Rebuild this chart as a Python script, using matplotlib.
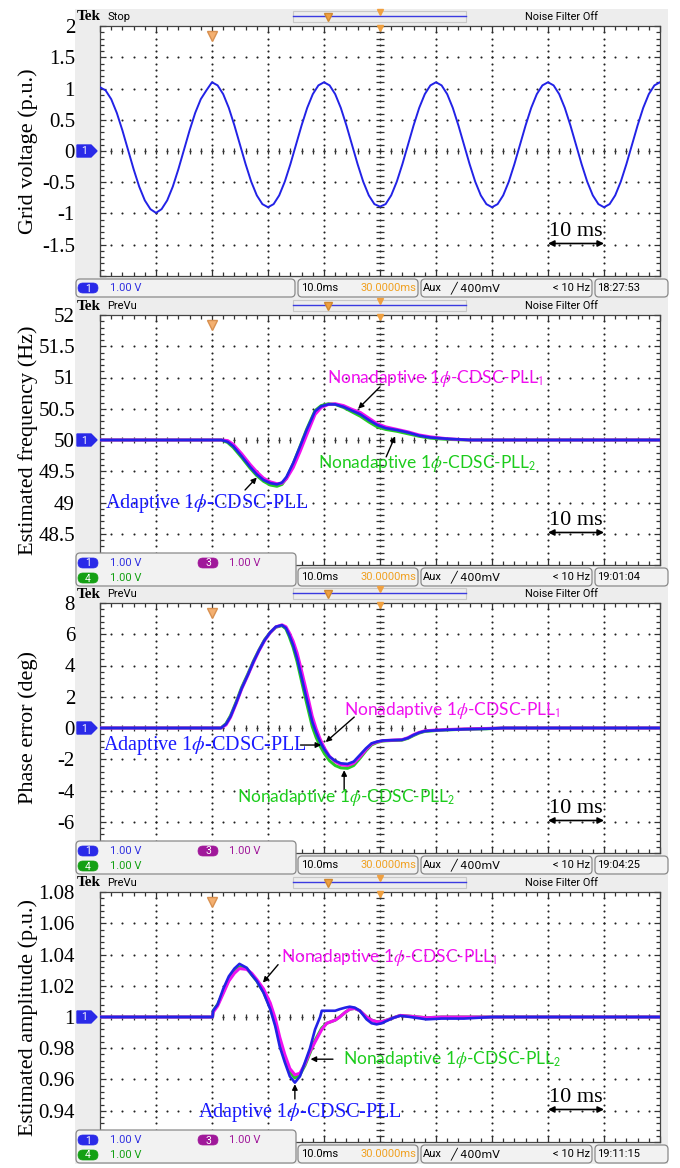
import numpy as np
import matplotlib
matplotlib.use('Agg')
import matplotlib.pyplot as plt
from matplotlib.patches import FancyBboxPatch, Rectangle, Polygon
from matplotlib.transforms import blended_transform_factory

plt.rcParams['mathtext.fontset'] = 'stix'

# ---- grid voltage (1 ms samples) ----
grid_t = np.arange(0, 101)
grid_v = [1.02, 0.97, 0.83, 0.61, 0.33, 0.02, -0.29, -0.57, -0.79, -0.93,
          -0.99, -0.93, -0.79, -0.57, -0.29, 0.02, 0.33, 0.61, 0.83, 0.97,
          1.10, 1.05, 0.91, 0.69, 0.41, 0.10, -0.21, -0.49, -0.71, -0.85,
          -0.90, -0.85, -0.71, -0.49, -0.21, 0.10, 0.41, 0.69, 0.91, 1.05,
          1.10, 1.05, 0.91, 0.69, 0.41, 0.10, -0.21, -0.49, -0.71, -0.85,
          -0.89, -0.85, -0.71, -0.49, -0.21, 0.10, 0.41, 0.69, 0.91, 1.05,
          1.10, 1.05, 0.91, 0.69, 0.41, 0.10, -0.21, -0.49, -0.71, -0.85,
          -0.90, -0.85, -0.71, -0.49, -0.21, 0.10, 0.41, 0.69, 0.91, 1.05,
          1.10, 1.05, 0.91, 0.69, 0.41, 0.10, -0.21, -0.49, -0.71, -0.85,
          -0.90, -0.85, -0.71, -0.49, -0.21, 0.10, 0.41, 0.69, 0.91, 1.05,
          1.10]

# ---- estimated frequency (Hz) ----
freq_t = [0, 21.7, 22.8, 23.8, 25.3, 26.8, 28.0, 29.2, 30.4, 31.6, 32.5, 33.3,
          34.5, 35.7, 36.9, 38.4, 39.5, 40.8, 42.0, 43.5, 45.0, 46.5, 48.0,
          49.5, 51.0, 53.0, 55.0, 57.0, 59.0, 62.0, 66.0, 100]
freq_adaptive = [50.0, 50.0, 49.97, 49.9, 49.74, 49.57, 49.45, 49.36, 49.31,
                 49.29, 49.32, 49.41, 49.63, 49.89, 50.16, 50.46, 50.54, 50.57,
                 50.57, 50.53, 50.47, 50.41, 50.32, 50.24, 50.19, 50.16, 50.12,
                 50.07, 50.04, 50.02, 50.0, 50.0]
freq_nonadaptive1 = [50.0, 50.0, 49.99, 49.93, 49.78, 49.61, 49.49, 49.39,
                     49.33, 49.3, 49.31, 49.38, 49.56, 49.81, 50.08, 50.41,
                     50.52, 50.57, 50.58, 50.55, 50.49, 50.44, 50.35, 50.26,
                     50.21, 50.17, 50.13, 50.08, 50.05, 50.02, 50.0, 50.0]
freq_nonadaptive2 = [50.0, 50.0, 49.96, 49.88, 49.72, 49.55, 49.43, 49.34,
                     49.28, 49.26, 49.29, 49.39, 49.62, 49.89, 50.17, 50.47,
                     50.55, 50.58, 50.57, 50.52, 50.45, 50.38, 50.29, 50.21,
                     50.17, 50.14, 50.1, 50.06, 50.03, 50.01, 50.0, 50.0]

# ---- phase error (deg) ----
phase_t = [0, 21.6, 22.5, 23.3, 24.3, 25.3, 26.4, 27.4, 28.4, 29.4, 30.4, 31.4,
           32.5, 33.2, 33.8, 34.5, 35.2, 35.9, 36.6, 37.3, 37.9, 38.6, 39.3,
           40.1, 41.0, 42.0, 43.0, 44.2, 45.3, 46.4, 47.5, 48.5, 49.5, 50.5,
           52.0, 53.9, 55.0, 56.0, 57.0, 58.0, 60.0, 62.0, 65.0, 69.0, 72.0, 100]
phase_adaptive = [0, 0, 0.25, 0.73, 1.6, 2.54, 3.4, 4.24, 4.98, 5.63, 6.12,
                  6.48, 6.58, 6.4, 5.95, 5.3, 4.46, 3.4, 2.32, 1.3, 0.4, -0.3,
                  -0.88, -1.4, -1.84, -2.1, -2.26, -2.3, -2.15, -1.73, -1.3,
                  -0.98, -0.87, -0.8, -0.78, -0.76, -0.64, -0.45, -0.3, -0.2,
                  -0.15, -0.12, -0.08, -0.05, 0, 0]
phase_nonadaptive1 = [0, 0, 0.2, 0.68, 1.55, 2.5, 3.37, 4.2, 4.95, 5.6, 6.1,
                      6.47, 6.6, 6.48, 6.1, 5.55, 4.8, 3.8, 2.75, 1.7, 0.75,
                      -0.05, -0.7, -1.3, -1.82, -2.15, -2.35, -2.4, -2.25,
                      -1.85, -1.38, -1.02, -0.89, -0.81, -0.78, -0.75, -0.62,
                      -0.43, -0.28, -0.18, -0.13, -0.1, -0.06, -0.03, 0, 0]
phase_nonadaptive2 = [0, 0, 0.28, 0.78, 1.65, 2.6, 3.45, 4.28, 5.0, 5.65, 6.12,
                      6.45, 6.55, 6.35, 5.85, 5.15, 4.25, 3.15, 2.05, 1.0, 0.1,
                      -0.6, -1.15, -1.65, -2.1, -2.4, -2.55, -2.58, -2.4, -1.95,
                      -1.45, -1.08, -0.92, -0.83, -0.8, -0.78, -0.66, -0.48,
                      -0.32, -0.22, -0.16, -0.12, -0.08, -0.05, 0, 0]

# ---- estimated amplitude (p.u.) ----
amp_t = [0, 20.1, 20.2, 21.0, 22.0, 23.0, 24.0, 24.9, 26.2, 27.1, 28.0, 29.2,
         30.4, 31.3, 32.1, 33.0, 33.9, 34.8, 35.7, 36.6, 37.5, 38.4, 39.3,
         39.6, 40.5, 42.0, 42.8, 43.8, 44.6, 45.5, 46.4, 47.6, 48.5, 49.4,
         50.3, 51.2, 52.4, 53.6, 55.4, 58.3, 61.0, 65.0, 70.0, 100]
amp_adaptive = [1.0, 1.0, 1.004, 1.008, 1.018, 1.026, 1.031, 1.034, 1.0315,
                1.027, 1.023, 1.0156, 1.005, 0.994, 0.981, 0.971, 0.962,
                0.958, 0.962, 0.971, 0.98, 0.992, 1.0, 1.004, 1.004, 1.004,
                1.005, 1.006, 1.0066, 1.006, 1.004, 0.9985, 0.996, 0.9953,
                0.996, 0.9975, 0.9995, 1.0008, 1.0, 0.9985, 0.999, 0.999,
                1.0, 1.0]
amp_nonadaptive1 = [1.0, 1.0, 1.003, 1.007, 1.015, 1.023, 1.028, 1.031, 1.0305,
                    1.028, 1.024, 1.018, 1.009, 0.999, 0.987, 0.976, 0.967,
                    0.963, 0.964, 0.97, 0.978, 0.984, 0.99, 0.992, 0.996,
                    0.998, 1.0, 1.003, 1.005, 1.0055, 1.004, 1.0, 0.998, 0.997,
                    0.997, 0.998, 0.9995, 1.001, 1.0005, 0.9995, 1.0, 1.0,
                    1.0, 1.0]
amp_nonadaptive2 = [1.0, 1.0, 1.004, 1.008, 1.016, 1.024, 1.029, 1.032, 1.031,
                    1.027, 1.023, 1.016, 1.006, 0.996, 0.984, 0.973, 0.965,
                    0.961, 0.963, 0.969, 0.977, 0.985, 0.991, 0.993, 0.996,
                    0.998, 1.0, 1.003, 1.005, 1.0055, 1.004, 1.0, 0.998, 0.997,
                    0.997, 0.998, 0.9995, 1.001, 1.0005, 0.9995, 1.0, 1.0,
                    1.0, 1.0]

# tick labels, top to bottom
grid_ticks = ['2', '1.5', '1', '0.5', '0', '-0.5', '-1', '-1.5', '']
freq_ticks = ['52', '51.5', '51', '50.5', '50', '49.5', '49', '48.5', '']
phase_ticks = ['8', '6', '4', '2', '0', '-2', '-4', '-6', '']
amp_ticks = ['1.08', '1.06', '1.04', '1.02', '1', '0.98', '0.96', '0.94', '']

lbl_adaptive = r'Adaptive 1$\phi$-CDSC-PLL'
lbl_non1 = r'Nonadaptive 1$\phi$-CDSC-PLL$_\mathsf{1}$'
lbl_non2 = r'Nonadaptive 1$\phi$-CDSC-PLL$_\mathsf{2}$'

BLUE = '#2222e6'
MAGENTA = '#f010f0'
GREEN = '#26cc26'
TXT_BLUE = '#1a1aff'
TXT_GREEN = '#1ccc1c'
ORANGE = '#f0a040'
SERIF = 'Liberation Serif'
TEKFONT = 'Roboto'

W, H = 680, 1168
fig = plt.figure(figsize=(W / 100, H / 100), dpi=100)

bg = fig.add_axes([0, 0, 1, 1], zorder=0)
bg.set_xlim(0, W)
bg.set_ylim(H, 0)
bg.axis('off')
ov = fig.add_axes([0, 0, 1, 1], zorder=3)
ov.set_xlim(0, W)
ov.set_ylim(H, 0)
ov.axis('off')


def rbox(x0, y0, x1, y1, fc='#f2f2f2', ec='#8a8a8a', r=4):
    ov.add_patch(FancyBboxPatch((x0, y0), x1 - x0, y1 - y0,
                                boxstyle=f'round,pad=0,rounding_size={r}',
                                fc=fc, ec=ec, lw=0.9))


def pill(x, y, color, num):
    ov.add_patch(FancyBboxPatch((x, y - 5), 20, 10,
                                boxstyle='round,pad=0,rounding_size=5',
                                fc=color, ec=color, lw=0.5))
    ov.text(x + 10, y + 0.5, num, color='white', fontsize=7.5, ha='center',
            va='center', family=TEKFONT)


def scope_frame(ax, ylo, yhi, labels):
    ax.set_xlim(0, 100)
    ax.set_ylim(ylo, yhi)
    xs_major = np.linspace(0, 100, 11)
    xs_minor = np.linspace(0, 100, 51)
    ys_major = np.linspace(ylo, yhi, 9)
    ys_minor = np.linspace(ylo, yhi, 41)
    # dotted graticule
    gx, gy = np.meshgrid(xs_minor, ys_major[1:-1])
    ax.plot(gx.ravel(), gy.ravel(), ls='none', marker='o', ms=1.5,
            mew=0, color='#222222', zorder=1)
    gx, gy = np.meshgrid(xs_major[1:-1], ys_minor)
    ax.plot(gx.ravel(), gy.ravel(), ls='none', marker='o', ms=1.5,
            mew=0, color='#222222', zorder=1)
    # centre cross ticks
    ymid = (ylo + yhi) / 2
    ax.plot(xs_minor, np.full_like(xs_minor, ymid), ls='none', marker='|',
            ms=5, mew=0.9, color='#333333', zorder=1)
    ax.plot(np.full_like(ys_minor, 50), ys_minor, ls='none', marker='_',
            ms=6, mew=0.9, color='#333333', zorder=1)
    ax.set_xticks(xs_major)
    ax.set_xticks(xs_minor, minor=True)
    ax.set_yticks(ys_major)
    ax.set_yticks(ys_minor, minor=True)
    ax.set_yticklabels(labels[::-1])
    ax.tick_params(which='both', direction='in', top=True, right=True,
                   colors='#333333', width=0.9)
    ax.tick_params(which='major', length=4)
    ax.tick_params(which='minor', length=3)
    ax.tick_params(axis='x', labelbottom=False)
    ax.tick_params(axis='y', pad=18, labelsize=15, labelcolor='black')
    for lab in ax.get_yticklabels():
        lab.set_family(SERIF)
    for sp in ax.spines.values():
        sp.set_color('#444444')
        sp.set_linewidth(0.9)
    trans = blended_transform_factory(ax.transData, ax.transAxes)
    ax.annotate('', xy=(80, 0.13), xytext=(90, 0.13), xycoords=trans,
                textcoords=trans,
                arrowprops=dict(arrowstyle='<|-|>', color='black', lw=1.2,
                                mutation_scale=9, shrinkA=0, shrinkB=0))
    ax.text(85, 0.178, '10 ms', transform=trans, ha='center', va='center',
            fontsize=16, family=SERIF)


def scope_chrome(top, mode, clock, multi):
    bottom = top + 250
    bg.add_patch(Rectangle((75, top - 17), 593, 289, fc='#ededed', ec='none'))
    # header
    ov.text(77, top - 9, 'Tek', fontsize=11, weight='bold', family=SERIF,
            va='center', ha='left')
    ov.text(107, top - 9, mode, fontsize=8, family=TEKFONT, va='center')
    ov.add_patch(Rectangle((293, top - 15), 173, 11, fc='none', ec='#c8c8c8',
                           lw=0.8))
    ov.plot([293, 466], [top - 10, top - 10], color='#3a3ae0', lw=1.0)
    ov.plot([328], [top - 9], marker='v', ms=6, color=ORANGE, mec='#d08830')
    ov.plot([380], [top - 14], marker='v', ms=5, color=ORANGE, mec=ORANGE)
    ov.plot([380], [top + 2], marker='v', ms=5, color=ORANGE, mec=ORANGE)
    ov.plot([212], [top + 10], marker='v', ms=7, color='#f4b070',
            mec='#d89050')
    ov.text(525, top - 9, 'Noise Filter Off', fontsize=7.8, family=TEKFONT,
            va='center')
    # channel 1 ground marker
    zy = top + 125
    ov.add_patch(Polygon([(77, zy - 6), (91, zy - 6), (97, zy), (91, zy + 6),
                          (77, zy + 6)], closed=True, fc='#2a2ae8',
                         ec='#2a2ae8'))
    ov.text(84, zy + 0.5, '1', color='white', fontsize=7.5, ha='center',
            va='center', family=TEKFONT)
    # status bar
    s0, s1 = bottom + 3, bottom + 21
    sm = (s0 + s1) / 2
    if multi:
        rbox(76, bottom - 12, 296, s1)
        pill(78, bottom - 2, '#2a2ae8', '1')
        ov.text(110, bottom - 2, '1.00 V', color='#3030e0', fontsize=8,
                family=TEKFONT, va='center')
        pill(198, bottom - 2, '#a0189a', '3')
        ov.text(229, bottom - 2, '1.00 V', color='#a0189a', fontsize=8,
                family=TEKFONT, va='center')
        pill(78, bottom + 13, '#14a014', '4')
        ov.text(110, bottom + 13, '1.00 V', color='#14a014', fontsize=8,
                family=TEKFONT, va='center')
    else:
        rbox(76, s0, 295, s1)
        pill(78, sm, '#2a2ae8', '1')
        ov.text(110, sm, '1.00 V', color='#3030e0', fontsize=8,
                family=TEKFONT, va='center')
    rbox(298, s0, 418, s1)
    ov.text(301, sm, '10.0ms', fontsize=8, family=TEKFONT, va='center')
    ov.text(416, sm, '30.0000ms', fontsize=8, family=TEKFONT, va='center',
            ha='right', color='#f0a020')
    rbox(421, s0, 592, s1)
    ov.text(423, sm, 'Aux', fontsize=8, family=TEKFONT, va='center')
    ov.text(450, sm, '\u2571 400mV', fontsize=8, family='DejaVu Sans',
            va='center')
    ov.text(590, sm, '< 10 Hz', fontsize=8, family=TEKFONT, va='center',
            ha='right')
    rbox(595, s0, 668, s1)
    ov.text(597, sm, clock, fontsize=8, family=TEKFONT, va='center')


def data_axes(top):
    return fig.add_axes([100 / W, 1 - (top + 250) / H, 560 / W, 250 / H],
                        zorder=1)


def ylabel(top, text):
    fig.text(28 / W, 1 - (top + 125) / H, text, rotation=90, ha='center',
             va='center', fontsize=16, family=SERIF)


def arrow(ax, tail, head):
    ax.annotate('', xy=head, xytext=tail, annotation_clip=False,
                arrowprops=dict(arrowstyle='-|>', color='black', lw=1.0,
                                mutation_scale=8, shrinkA=0, shrinkB=0))


def three_traces(ax, t, a, n1, n2):
    ax.plot(t, n2, color=GREEN, lw=2.2, zorder=3)
    ax.plot(t, n1, color=MAGENTA, lw=2.2, zorder=4)
    ax.plot(t, a, color=BLUE, lw=1.9, zorder=5)


tops = [26, 315, 603, 892]

# grid voltage
ax1 = data_axes(tops[0])
scope_frame(ax1, -2, 2, grid_ticks)
ax1.plot(grid_t, grid_v, color=BLUE, lw=1.4, zorder=5)
ylabel(tops[0], 'Grid voltage (p.u.)')
scope_chrome(tops[0], 'Stop', '18:27:53', False)

# estimated frequency
ax2 = data_axes(tops[1])
scope_frame(ax2, 48, 52, freq_ticks)
three_traces(ax2, freq_t, freq_adaptive, freq_nonadaptive1, freq_nonadaptive2)
ax2.text(40.5, 50.99, lbl_non1, color=MAGENTA, fontsize=12.5, family='Lato',
         va='center', zorder=6)
arrow(ax2, (50.0, 50.85), (46.1, 50.5))
ax2.text(38.9, 49.63, lbl_non2, color=TXT_GREEN, fontsize=12.5, family='Lato',
         va='center', zorder=6)
arrow(ax2, (51.1, 49.73), (52.7, 50.06))
ax2.text(0.9, 48.99, lbl_adaptive, color=TXT_BLUE, fontsize=14.5,
         family=SERIF, va='center', zorder=6)
arrow(ax2, (25.9, 49.2), (28.0, 49.4))
ylabel(tops[1], 'Estimated frequency (Hz)')
scope_chrome(tops[1], 'PreVu', '19:01:04', True)

# phase error
ax3 = data_axes(tops[2])
scope_frame(ax3, -8, 8, phase_ticks)
three_traces(ax3, phase_t, phase_adaptive, phase_nonadaptive1,
             phase_nonadaptive2)
ax3.text(43.6, 1.15, lbl_non1, color=MAGENTA, fontsize=12.5, family='Lato',
         va='center', zorder=6)
arrow(ax3, (45.4, 0.7), (40.3, -0.9))
ax3.text(0.5, -1.09, lbl_adaptive, color=TXT_BLUE, fontsize=14.5,
         family=SERIF, va='center', zorder=6)
arrow(ax3, (35.8, -1.09), (39.5, -1.09))
ax3.text(24.5, -4.48, lbl_non2, color=TXT_GREEN, fontsize=12.5, family='Lato',
         va='center', zorder=6)
arrow(ax3, (43.6, -3.95), (43.6, -2.7))
ylabel(tops[2], 'Phase error (deg)')
scope_chrome(tops[2], 'PreVu', '19:04:25', True)

# estimated amplitude
ax4 = data_axes(tops[3])
scope_frame(ax4, 0.92, 1.08, amp_ticks)
three_traces(ax4, amp_t, amp_adaptive, amp_nonadaptive1, amp_nonadaptive2)
ax4.text(32.3, 1.038, lbl_non1, color=MAGENTA, fontsize=12.5, family='Lato',
         va='center', zorder=6)
arrow(ax4, (31.8, 1.0335), (29.1, 1.022))
ax4.text(43.4, 0.973, lbl_non2, color=TXT_GREEN, fontsize=12.5, family='Lato',
         va='center', zorder=6)
arrow(ax4, (41.6, 0.973), (37.6, 0.973))
ax4.text(35.7, 0.939, lbl_adaptive, color=TXT_BLUE, fontsize=14.5,
         family=SERIF, va='center', ha='center', zorder=6)
arrow(ax4, (34.8, 0.9475), (34.8, 0.957))
ylabel(tops[3], 'Estimated amplitude (p.u.)')
scope_chrome(tops[3], 'PreVu', '19:11:15', True)

fig.savefig('out.png', dpi=100)
